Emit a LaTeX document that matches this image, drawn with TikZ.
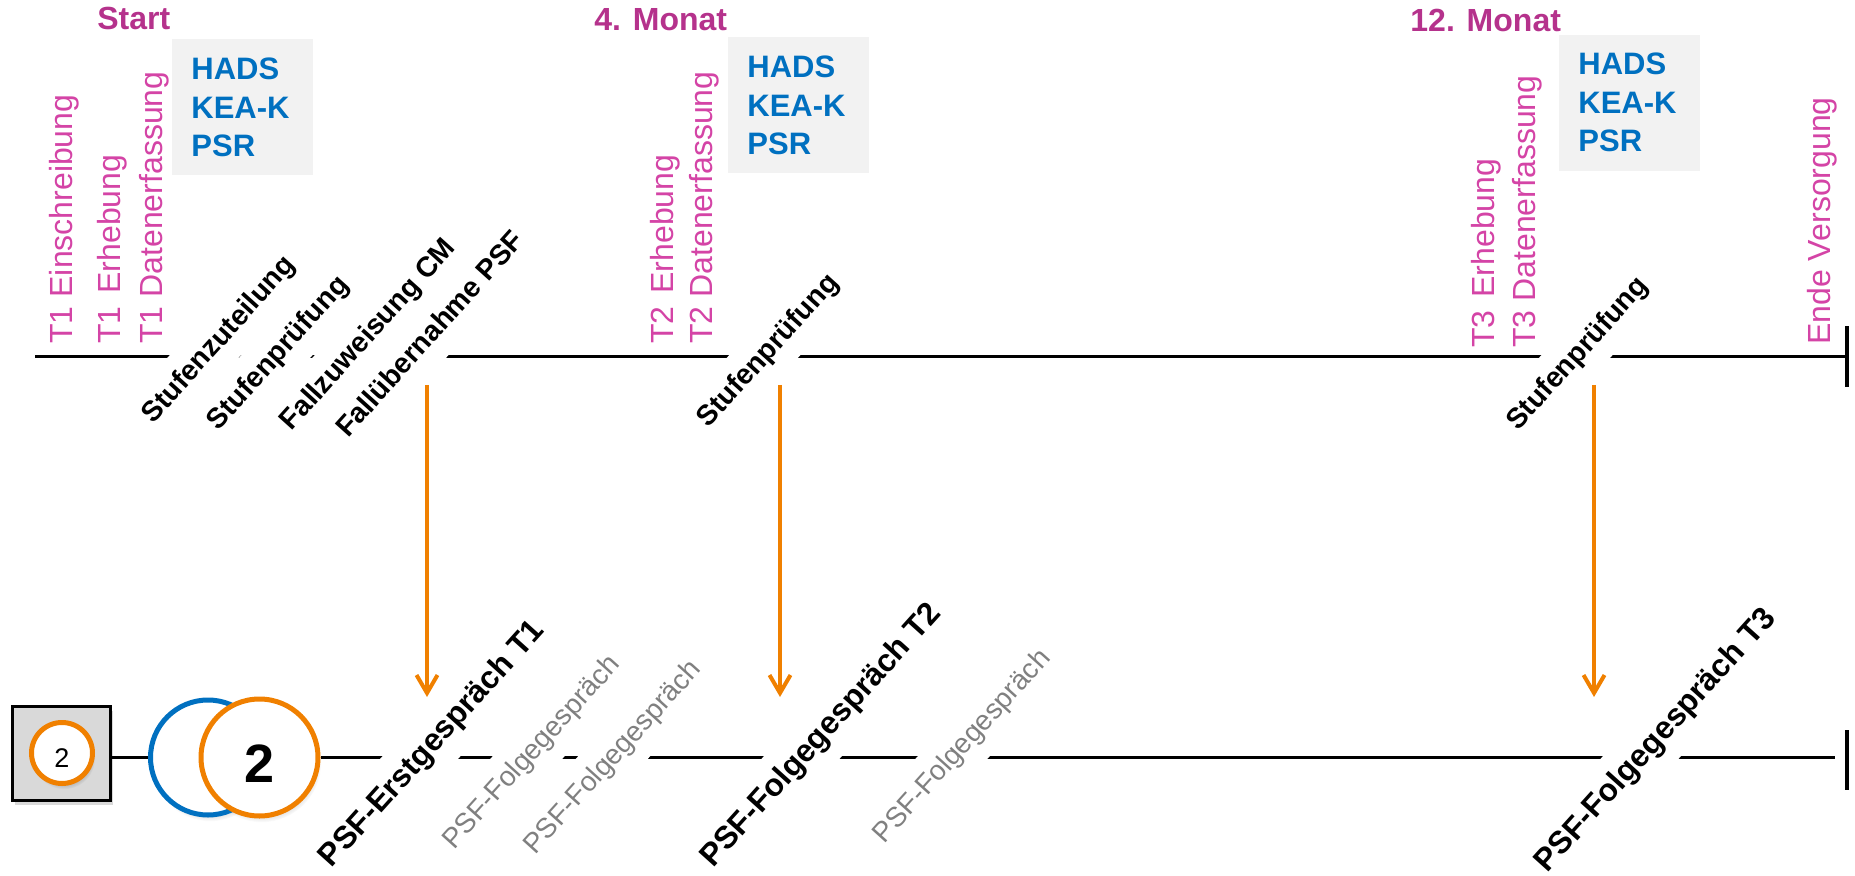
\documentclass[tikz,border=0pt]{standalone}
\usepackage{fontspec}
\setmainfont{Liberation Sans}
\usetikzlibrary{arrows.meta,shadows,fadings}

\definecolor{monthmag}{RGB}{181,50,140}
\definecolor{eventpink}{RGB}{212,68,166}
\definecolor{scaleblue}{RGB}{0,112,192}
\definecolor{panelgray}{RGB}{242,242,242}
\definecolor{boxgray}{RGB}{217,217,217}
\definecolor{psforange}{RGB}{240,128,0}
\definecolor{minorgray}{RGB}{128,128,128}

\begin{document}
\begin{tikzpicture}[x=0.5pt,y=-0.5pt,
  tl/.style={line width=1.5pt,black},
  month/.style={anchor=base west,inner sep=0,text=monthmag,
    font=\fontsize{16}{19}\selectfont\bfseries},
  panel/.style={anchor=north west,fill=panelgray,minimum width=70.5pt,
    minimum height=68pt,inner sep=0},
  instr/.style={anchor=base west,inner sep=0,text=scaleblue,
    font=\fontsize{15.5}{18}\selectfont\bfseries},
  event/.style={rotate=90,anchor=base west,inner sep=0,text=eventpink,
    font=\fontsize{16}{19}\selectfont},
  diag/.style={rotate=48,fill=white,inner xsep=1pt,anchor=center},
  topstep/.style={diag,inner ysep=6.4pt,text height=10.65pt,text depth=2.98pt,
    font=\fontsize{14.2}{17}\selectfont\bfseries},
  session/.style={diag,inner ysep=6.9pt,text height=11.85pt,text depth=3.32pt,
    font=\fontsize{15.8}{19}\selectfont\bfseries},
  followup/.style={diag,inner ysep=6.65pt,text height=10.5pt,text depth=2.94pt,
    text=minorgray,font=\fontsize{14}{17}\selectfont},
  endbar/.style={fill=black,minimum width=1.75pt,inner sep=0,draw=none},
  softshadow/.style={circular drop shadow={shadow scale=1.02,shadow xshift=1pt,
    shadow yshift=-2.5pt,opacity=0.35}},
  ring/.style={circle,draw=#1,line width=2.5pt,fill=white,inner sep=0,softshadow},
  flow/.style={line width=2pt,psforange,
    -{Straight Barb[length=9pt,width=10.5pt]}},
]
\useasboundingbox (0,0) rectangle (1855,876);

% month headings
\node[month] (m1) at (97,30) {Start};
\node[month] (m2) at (594,31) {4. Monat};
\node[month] (m3) at (1410,32) {12. Monat};

% questionnaire panels
\foreach \i/\px/\py/\tx/\ty in {1/172/39/191/80, 2/728/37/747/78, 3/1559/35/1578/75} {
  \node[panel] (panel\i) at (\px,\py) {};
  \node[instr] (hads\i) at (\tx,\ty) {HADS};
  \node[instr] (kea\i) at (\tx,\ty+38.5) {KEA-K};
  \node[instr] (psr\i) at (\tx,\ty+77) {PSR};
}

% survey events above the upper time line
\node[event] (e1) at (72,344) {T1 Einschreibung};
\node[event] (e2) at (120,344) {T1\hspace{0.12em} Erhebung};
\node[event] (e3) at (162,344) {T1 Datenerfassung};
\node[event] (e4) at (673,344) {T2\hspace{0.12em} Erhebung};
\node[event] (e5) at (712,344) {T2 Datenerfassung};
\node[event] (e6) at (1494,348) {T3\hspace{0.12em} Erhebung};
\node[event] (e7) at (1535,348) {T3 Datenerfassung};
\node[event] (e8) at (1830,345) {Ende Versorgung};

% entry box and stage circles on the lower line
\node[draw=black,line width=1.5pt,fill=boxgray,minimum width=49pt,minimum height=47pt,
  inner sep=0,drop shadow={shadow xshift=1pt,shadow yshift=-2pt,opacity=0.3}]
  (entry) at (61.5,753.5) {};
\node[ring=psforange,minimum size=30.5pt,text height=14.2pt,
  font=\fontsize{13.5}{16}\selectfont] (entrymark) at (62,753) {2};
\node[ring=scaleblue,minimum size=57.5pt] (blue) at (208,757.5) {};
\node[ring=psforange,minimum size=58.5pt,text height=25.3pt,
  font=\fontsize{27}{30}\selectfont\bfseries] (stage) at (259.5,757.5) {2};

% time lines
\coordinate (topstart) at (35,357);
\node[endbar,minimum height=30.5pt] (endT) at (1847,356.5) {};
\node[endbar,minimum height=30pt] (endB) at (1847,760) {};
\draw[tl] (topstart) -- (topstart -| endT.west);
\draw[tl] (entry.east |- blue.west) -- (blue.west);
\draw[tl,shorten >=5pt] (stage.east) -- (stage.east -| endB.west);

% steps on the upper line
\node[topstep] (tz) at (219,340) {Stufenzuteilung};
\node[topstep] (tp1) at (278.5,353.5) {Stufenprüfung};
\node[topstep] (tf) at (368.5,335) {Fallzuweisung CM};
\node[topstep] (tu) at (431,335) {Fallübernahme PSF};
\node[topstep] (tp2) at (768.5,351) {Stufenprüfung};
\node[topstep] (tp3) at (1578,354) {Stufenprüfung};

% sessions on the lower line
\node[session] (s1) at (432.5,744) {PSF-Erstgespräch T1};
\node[followup] (f1) at (532,752.5) {PSF-Folgegespräch};
\node[followup] (f2) at (613,757.5) {PSF-Folgegespräch};
\node[session] (s2) at (821.5,735.5) {PSF-Folgegespräch T2};
\node[followup] (f3) at (962.5,746.5) {PSF-Folgegespräch};
\node[session] (s3) at (1656,740.5) {PSF-Folgegespräch T3};

% hand-over arrows
\foreach \i/\ax in {1/427,2/780,3/1594} {
  \coordinate (cue\i) at (\ax,385);
  \coordinate (talk\i) at (\ax,697);
  \draw[flow] (cue\i) -- (talk\i);
}
\end{tikzpicture}
\end{document}
